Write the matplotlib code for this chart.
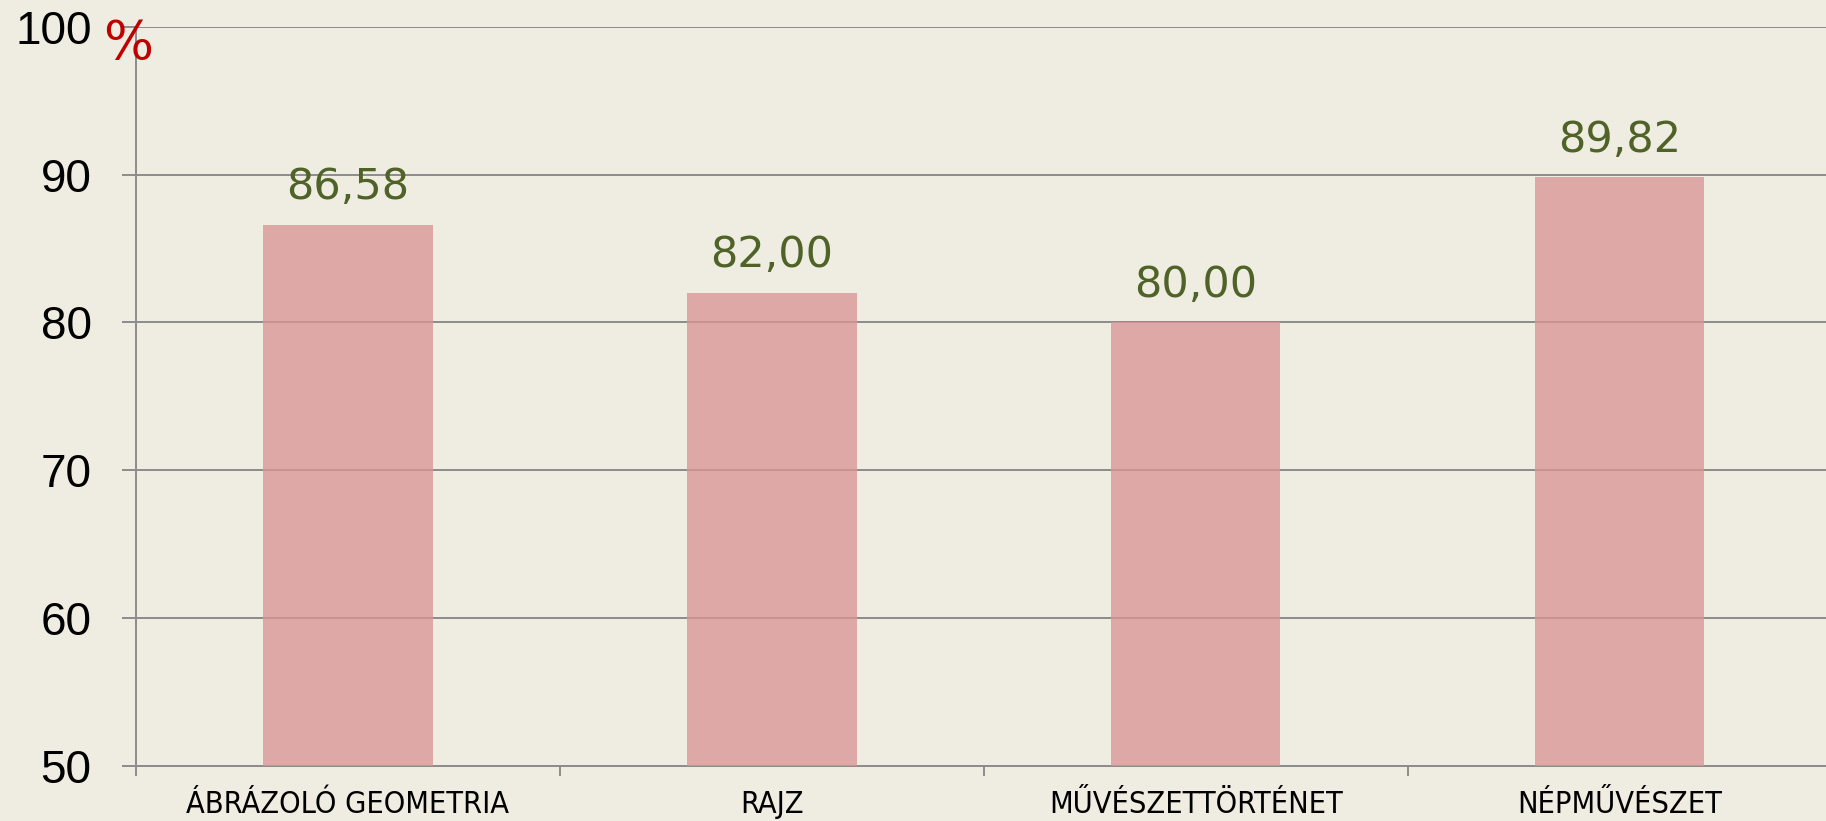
import numpy as np
import matplotlib.pyplot as plt

categories = ['ÁBRÁZOLÓ GEOMETRIA', 'RAJZ', 'MŰVÉSZETTÖRTÉNET', 'NÉPMŰVÉSZET']
values = [86.58, 82.00, 80.00, 89.82]
yticks = [50, 60, 70, 80, 90, 100]

bg = '#EFEDE1'
fig = plt.figure(figsize=(18.26, 8.21), dpi=100, facecolor=bg)
ax = fig.add_axes([0.0745, 0.067, 0.9285, 0.9005])
ax.set_facecolor('none')

x = np.arange(len(categories))
ax.bar(x, values, width=0.4, bottom=0, color='#D99594', alpha=0.78, zorder=3)

ax.set_ylim(50, 100)
ax.set_xlim(-0.5, len(categories) - 0.5)
ax.set_yticks(yticks)
ax.set_yticklabels([str(v) for v in yticks], fontsize=33, family='Liberation Sans')
ax.yaxis.grid(True, color='#8C8C8C', linewidth=1.4, zorder=1)
ax.tick_params(axis='y', length=10, width=1.4, color='#8C8C8C', pad=22)

ax.set_xticks(x)
ax.set_xticklabels(categories, fontsize=22, family='DejaVu Sans', fontstretch='condensed')
ax.set_xticks(np.arange(len(categories) + 1) - 0.5, minor=True)
ax.tick_params(axis='x', which='major', length=0, pad=17)
ax.tick_params(axis='x', which='minor', length=7, width=1.4, color='#8C8C8C')

for s in ['top', 'right']:
    ax.spines[s].set_visible(False)
for s in ['left', 'bottom']:
    ax.spines[s].set_color('#8C8C8C')
    ax.spines[s].set_linewidth(1.4)

for xi, v in zip(x, values):
    ax.annotate(f'{v:.2f}'.replace('.', ','), (xi, v), xytext=(0, 12),
                textcoords='offset points', ha='center', va='bottom',
                fontsize=31, color='#4F6228', family='DejaVu Sans')

fig.text(0.0565, 0.978, '%', color='#C00000', fontsize=38, ha='left', va='top',
         family='DejaVu Sans')

fig.savefig('out.png', dpi=100, facecolor=bg)
